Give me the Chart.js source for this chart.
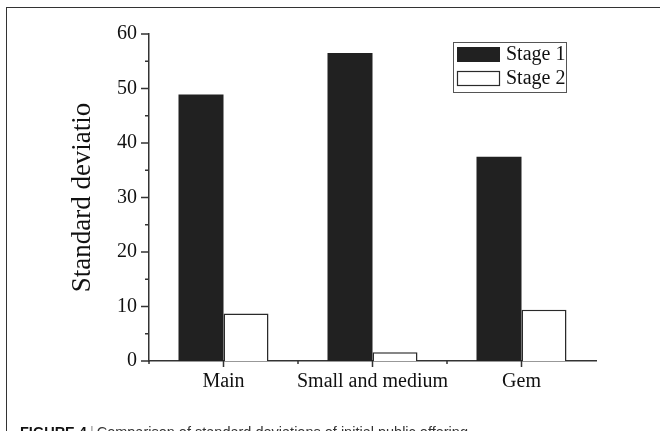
<!DOCTYPE html>
<html>
<head>
<meta charset="utf-8">
<script src="https://cdn.jsdelivr.net/npm/chart.js@4.4.0/dist/chart.umd.min.js"></script>
<style>
  html, body { margin: 0; padding: 0; background: #fff; }
  #wrap { position: relative; width: 660px; height: 431px; overflow: hidden; }
  #frame { position: absolute; left: 6px; top: 7px; width: 700px; height: 500px; border-left: 1.5px solid #333; border-top: 1.5px solid #333; }
  #chart { position: absolute; left: 0; top: 0; }
  #caption { position: absolute; left: 20px; top: 424px; font: 14.5px "Liberation Sans", Arial, sans-serif; color: #333; white-space: nowrap; }
  #caption b { color: #111; }
  #caption .bar { color: #999; margin: 0 3px; }
</style>
</head>
<body>
<div id="wrap">
  <div id="frame"></div>
  <canvas id="chart" width="660" height="431"></canvas>
  <div id="caption"><b>FIGURE 4</b><span class="bar">|</span>Comparison of standard deviations of initial public offering</div>
</div>
<script>
const categories = ['Main', 'Small and medium', 'Gem']
const stage1 = [48.9, 56.5, 37.5]
const stage2 = [8.7, 1.6, 9.4]
const yMin = 0
const yMax = 60
const yStep = 5   // minor step, labels every 10

const serif = '"Liberation Serif", "Times New Roman", serif'

// short outward ticks: major/minor on y, centre/boundary on x
const axisTicks = {
    id: 'axisTicks',
    afterDatasetsDraw(chart) {
        const { ctx, chartArea, scales: { x, y } } = chart
        ctx.save()
        ctx.strokeStyle = '#333'
        ctx.lineWidth = 1.5
        ctx.beginPath()
        y.ticks.forEach(t => {
            const py = y.getPixelForValue(t.value)
            const len = t.value % 10 === 0 ? 8 : 4
            ctx.moveTo(chartArea.left - len, py)
            ctx.lineTo(chartArea.left, py)
        })
        const half = (x.getPixelForValue(1) - x.getPixelForValue(0)) / 2
        categories.forEach((c, i) => {
            const px = x.getPixelForValue(i)
            ctx.moveTo(px, chartArea.bottom)
            ctx.lineTo(px, chartArea.bottom + 6)
            ctx.moveTo(px - half, chartArea.bottom)
            ctx.lineTo(px - half, chartArea.bottom + 3)
        })
        ctx.stroke()
        ctx.restore()
    }
}

// boxed legend in the top right of the plot
const boxLegend = {
    id: 'boxLegend',
    afterDraw(chart) {
        const { ctx, chartArea } = chart
        const left = chartArea.right - 143
        const top = chartArea.top + 8
        ctx.save()
        ctx.strokeStyle = '#555'
        ctx.lineWidth = 1
        ctx.strokeRect(left + 0.5, top + 0.5, 113, 50)
        chart.data.datasets.forEach((ds, i) => {
            const sy = top + 5 + i * 24
            ctx.fillStyle = ds.backgroundColor
            ctx.fillRect(left + 4, sy, 43, 15)
            if (ds.borderWidth) {
                ctx.strokeStyle = ds.borderColor
                ctx.lineWidth = 1.2
                ctx.strokeRect(left + 4.5, sy + 0.5, 42, 14)
            }
            ctx.fillStyle = '#111'
            ctx.font = '20px ' + serif
            ctx.textBaseline = 'middle'
            ctx.fillText(ds.label, left + 53, sy + 8)
        })
        ctx.restore()
    }
}

new Chart(document.getElementById('chart').getContext('2d'), {
    type: 'bar',
    data: {
        labels: categories,
        datasets: [
            {
                label: 'Stage 1',
                data: stage1,
                backgroundColor: '#212121',
                borderWidth: 0,
                categoryPercentage: 0.604,
                barPercentage: 1
            },
            {
                label: 'Stage 2',
                data: stage2,
                backgroundColor: '#ffffff',
                borderColor: '#2a2a2a',
                borderWidth: 1.5,
                categoryPercentage: 0.604,
                barPercentage: 1
            }
        ]
    },
    options: {
        responsive: false,
        animation: false,
        layout: { padding: { top: 34, right: 64, bottom: 0, left: 0 } },
        plugins: {
            legend: { display: false },
            tooltip: { enabled: false }
        },
        scales: {
            x: {
                grid: { display: false, drawTicks: false },
                border: { display: true, color: '#333', width: 1.5 },
                ticks: {
                    padding: 9,
                    color: '#111',
                    autoSkip: false,
                    maxRotation: 0,
                    font: { family: serif, size: 20 }
                },
                afterFit: s => { s.height = 70 }
            },
            y: {
                min: yMin,
                max: yMax,
                grid: { display: false, drawTicks: false },
                border: { display: true, color: '#333', width: 1.5 },
                ticks: {
                    stepSize: yStep,
                    padding: 12,
                    color: '#111',
                    font: { family: serif, size: 20 },
                    callback: v => (v % 10 === 0 ? v : '')
                },
                title: {
                    display: true,
                    text: 'Standard deviatio',
                    color: '#111',
                    font: { family: serif, size: 27 },
                    padding: { top: 67, bottom: 0 }
                },
                afterFit: s => { s.width = 149 }
            }
        }
    },
    plugins: [axisTicks, boxLegend]
})
</script>
</body>
</html>
